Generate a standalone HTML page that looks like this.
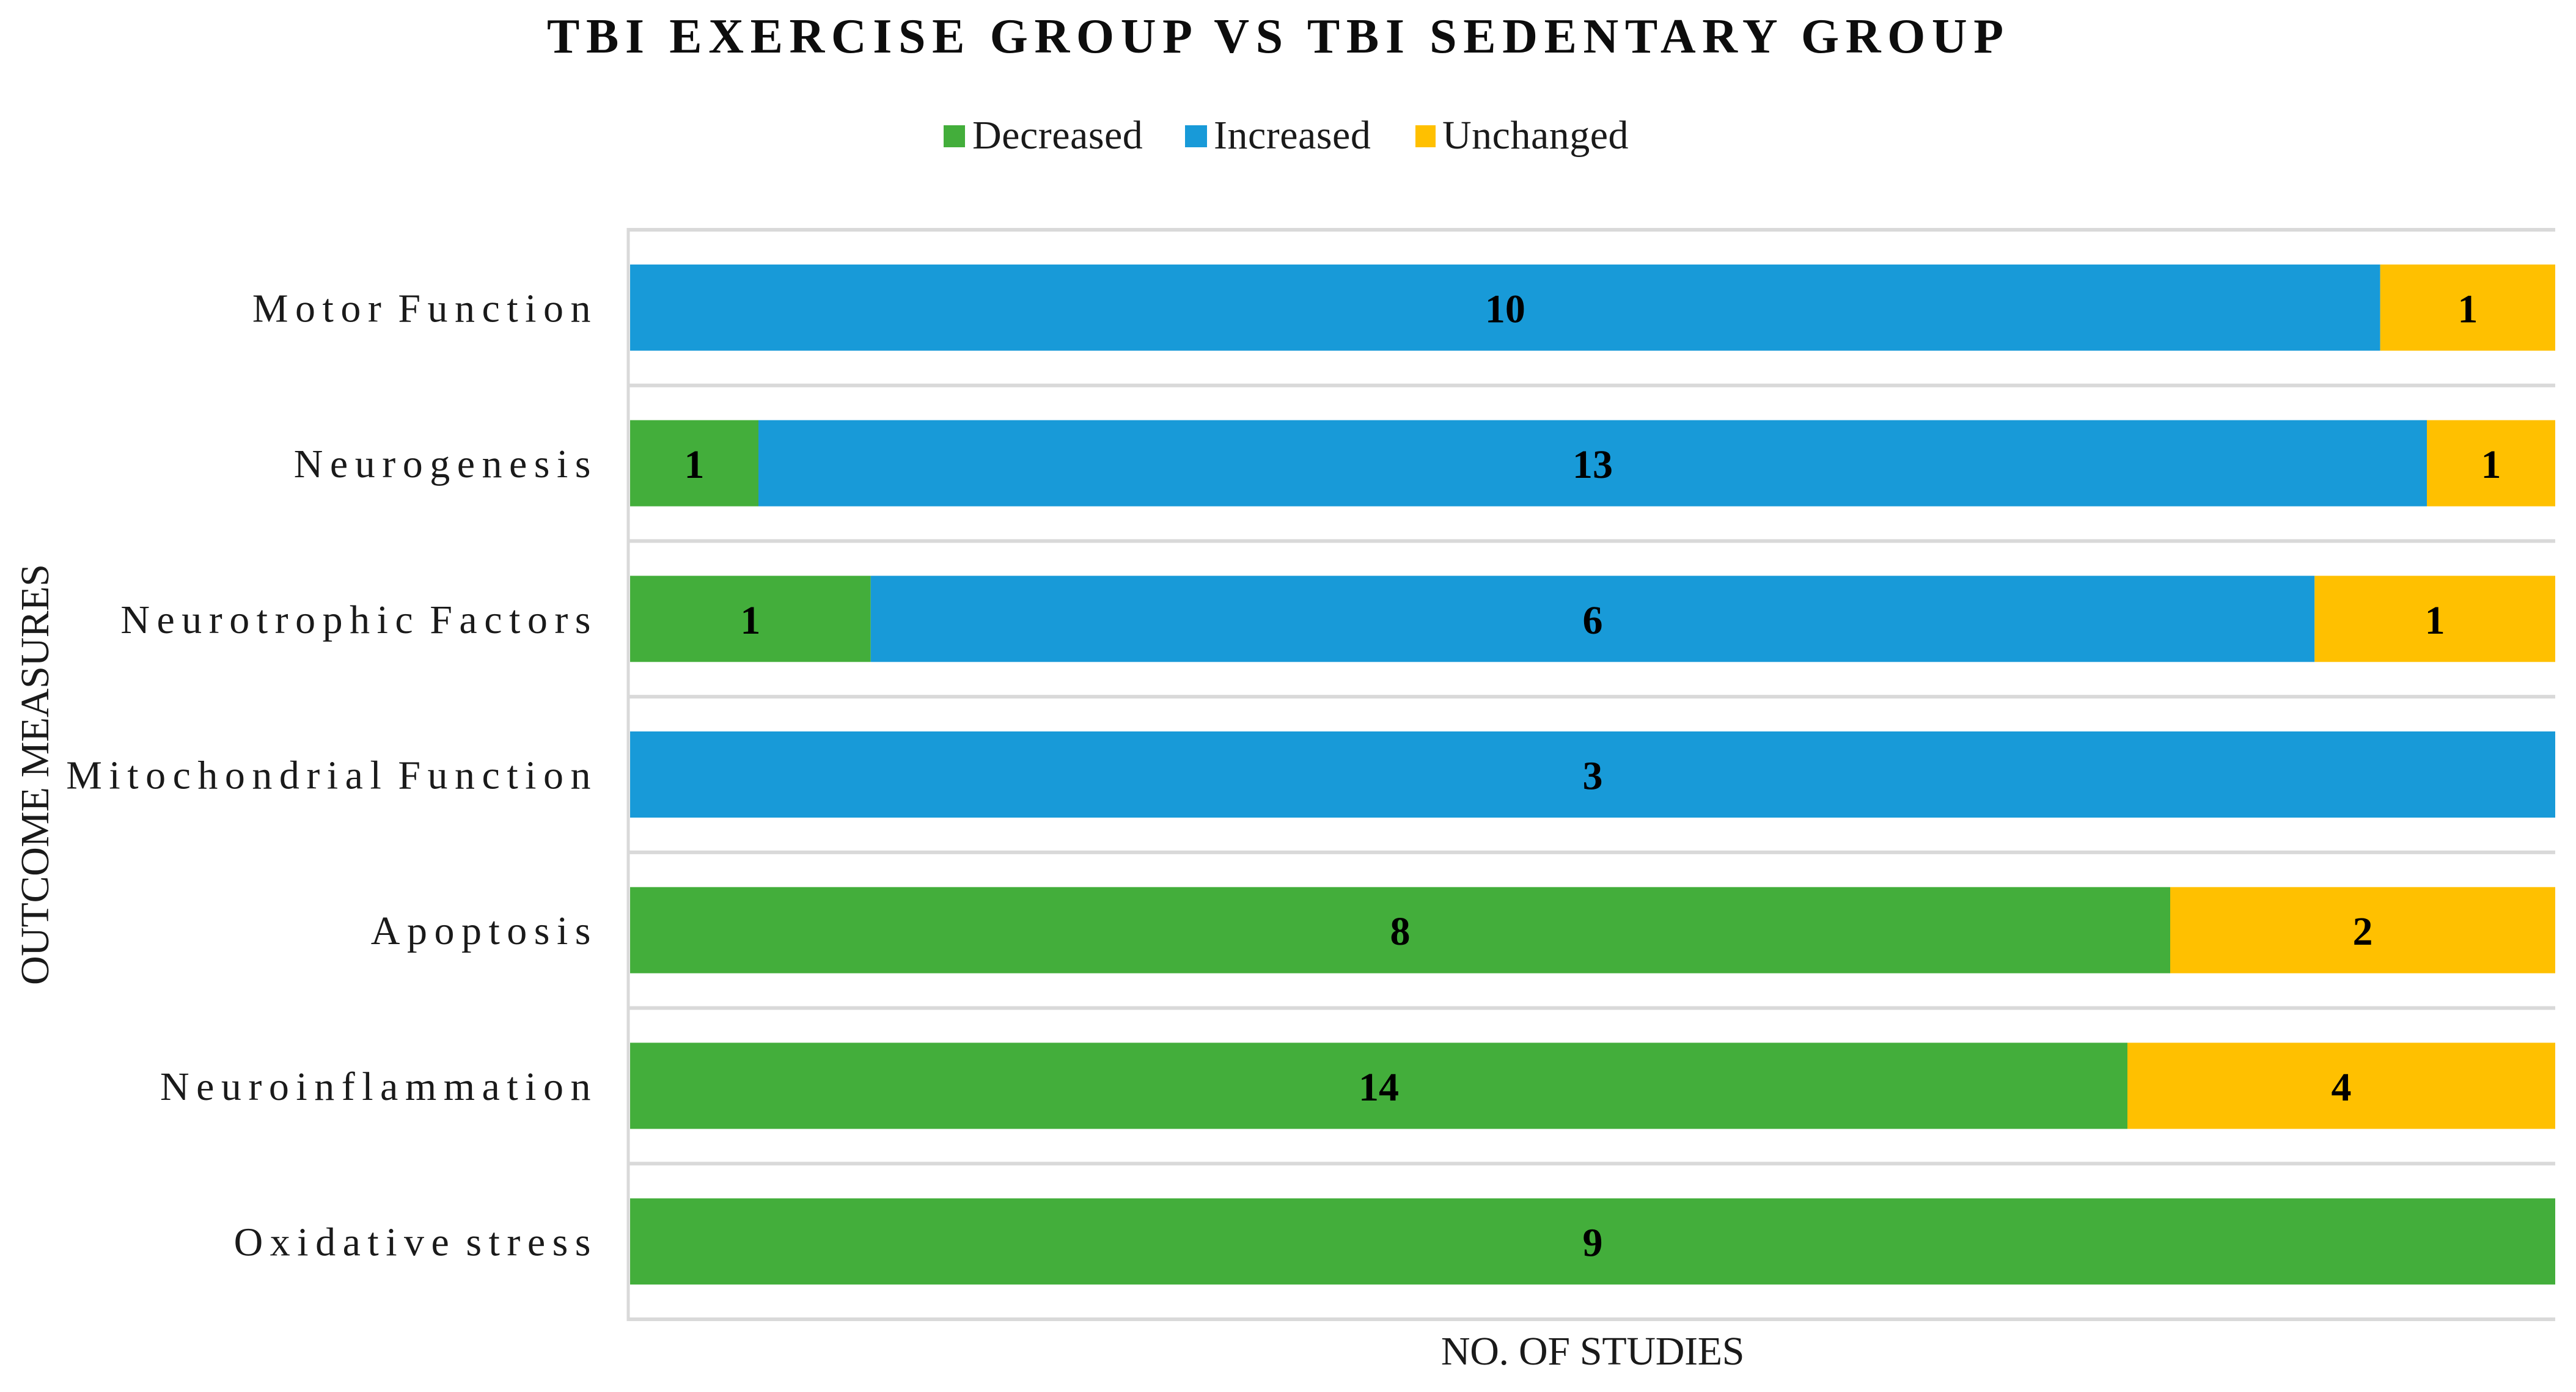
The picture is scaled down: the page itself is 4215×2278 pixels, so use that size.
<!DOCTYPE html>
<html lang="en">
<head>
<meta charset="utf-8">
<title>TBI Exercise Group vs TBI Sedentary Group</title>
<style>
  html, body { margin: 0; padding: 0; background: #ffffff; }
  svg { display: block; }
  text { font-family: "Liberation Serif", "Times New Roman", serif; fill: #0d0d0d; }
  .tick { font-size: 66px; letter-spacing: 11.5px; word-spacing: -12px; text-anchor: end; fill: #1a1a1a; }
  .value { font-size: 66px; font-weight: 700; text-anchor: middle; fill: #000000; }
  .legend-label { font-size: 66px; letter-spacing: 0.5px; fill: #1a1a1a; }
  .axis-title { font-size: 66px; fill: #1a1a1a; }
</style>
</head>
<body>
<svg id="chart" xmlns="http://www.w3.org/2000/svg" width="4215" height="2278" viewBox="0 0 4215 2278">
  <rect x="0" y="0" width="4215" height="2278" fill="#ffffff"/>
  <text x="895" y="86" font-size="80" font-weight="700" letter-spacing="10.6">TBI EXERCISE GROUP VS TBI SEDENTARY GROUP</text>

  <g>
    <g>
      <rect x="1544" y="205" width="35" height="36" fill="#43AE3B"/>
      <text class="legend-label" x="1591" y="243">Decreased</text>
    </g>
    <g>
      <rect x="1939" y="205" width="36" height="36" fill="#189AD8"/>
      <text class="legend-label" x="1986" y="243">Increased</text>
    </g>
    <g>
      <rect x="2316" y="205" width="33" height="36" fill="#FFC000"/>
      <text class="legend-label" x="2360" y="243">Unchanged</text>
    </g>
  </g>

  <g id="grid"></g>
  <g id="bars"></g>
  <g id="ticks"></g>

  <text class="axis-title" x="2606" y="2233" text-anchor="middle" letter-spacing="-0.3">NO. OF STUDIES</text>
  <text class="axis-title" transform="translate(79 1612) rotate(-90)" x="0" y="0" letter-spacing="-0.4">OUTCOME MEASURES</text>
</svg>

<script>
const categories = ["Motor Function", "Neurogenesis", "Neurotrophic Factors", "Mitochondrial Function", "Apoptosis", "Neuroinflammation", "Oxidative stress"];
const decreased = [0, 1, 1, 0, 8, 14, 9];
const increased = [10, 13, 6, 3, 0, 0, 0];
const unchanged = [1, 1, 1, 0, 2, 4, 0];

const NS = 'http://www.w3.org/2000/svg';
const plot = { left: 1031, right: 4181, top: 376, bottom: 2159, axisX: 1028 };
const barHeight = 141;
const seriesList = [
  { key: 'decreased', values: decreased, color: '#43AE3B' },
  { key: 'increased', values: increased, color: '#189AD8' },
  { key: 'unchanged', values: unchanged, color: '#FFC000' }
];

function bandStep() { return (plot.bottom - plot.top) / categories.length; }
function yBand(i) { return plot.top + bandStep() * (i + 0.5); }
function xShare(share) { return plot.left + (plot.right - plot.left) * share; }
function slug(s) { return s.toLowerCase().replace(/\s+/g, '-'); }

const gridGroup = document.getElementById('grid');
const barGroup = document.getElementById('bars');
const tickGroup = document.getElementById('ticks');

for (let i = 0; i <= categories.length; i++) {
  const line = document.createElementNS(NS, 'line');
  const y = plot.top + bandStep() * i;
  line.setAttribute('x1', plot.axisX - 2);
  line.setAttribute('x2', plot.right);
  line.setAttribute('y1', y);
  line.setAttribute('y2', y);
  line.setAttribute('stroke', '#D9D9D9');
  line.setAttribute('stroke-width', '6');
  
  
  gridGroup.appendChild(line);
}

const axisLine = document.createElementNS(NS, 'line');
axisLine.setAttribute('x1', plot.axisX);
axisLine.setAttribute('x2', plot.axisX);
axisLine.setAttribute('y1', plot.top - 3);
axisLine.setAttribute('y2', plot.bottom + 3);
axisLine.setAttribute('stroke', '#D9D9D9');
axisLine.setAttribute('stroke-width', '5');


gridGroup.appendChild(axisLine);

categories.forEach(function (cat, i) {
  const cy = yBand(i);

  const tick = document.createElementNS(NS, 'text');
  tick.setAttribute('class', 'tick');
  tick.setAttribute('x', 978);
  tick.setAttribute('y', cy + 23);
  
  
  tick.textContent = cat;
  tickGroup.appendChild(tick);

  let total = 0;
  seriesList.forEach(function (s) { total += s.values[i]; });

  let cumulative = 0;
  seriesList.forEach(function (s) {
    const v = s.values[i];
    if (!v) return;
    const x0 = xShare(cumulative / total);
    const x1 = xShare((cumulative + v) / total);
    cumulative += v;

    const bar = document.createElementNS(NS, 'rect');
    bar.setAttribute('x', x0);
    bar.setAttribute('y', cy - barHeight / 2);
    bar.setAttribute('width', x1 - x0);
    bar.setAttribute('height', barHeight);
    bar.setAttribute('fill', s.color);
    
    
    barGroup.appendChild(bar);

    const label = document.createElementNS(NS, 'text');
    label.setAttribute('class', 'value');
    label.setAttribute('x', (x0 + x1) / 2);
    label.setAttribute('y', cy + 24);
    
    
    label.textContent = String(v);
    barGroup.appendChild(label);
  });
});
</script>
</body>
</html>
